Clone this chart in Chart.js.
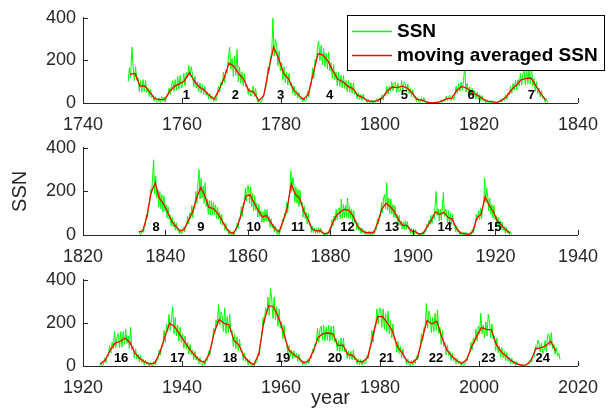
<!DOCTYPE html>
<html><head><meta charset="utf-8">
<script src="https://cdn.jsdelivr.net/npm/chart.js@4.4.1/dist/chart.umd.min.js"></script>
<style>
html,body{margin:0;padding:0;background:#fff;width:609px;height:412px;overflow:hidden;position:relative}
canvas{position:absolute;left:0}
</style></head><body>
<canvas id="c0" width="609" height="137" style="top:0px"></canvas>
<canvas id="c1" width="609" height="137" style="top:130px"></canvas>
<canvas id="c2" width="609" height="150" style="top:262px"></canvas>
<script>
// ---- DATA ----
// SSN sampled 4 times per year, starting 1749
const ssnStartYear = 1749;
const ssnPerYear = 4;
const ssnValues = [
100,165,120,262, 175,105,170,110, 120,55,105,50, 110,55,105,50, 72,30,65,25,
35,10,30,6, 4,25,3,30, 8,28,5,32, 30,70,40,85, 105,55,110,60,
125,65,130,70, 85,140,80,145, 120,178,125,170, 135,75,125,70, 100,52,95,48,
85,40,78,36, 52,20,45,18, 30,6,28,10, 35,78,50,100, 85,145,95,155,
140,215,262,160, 210,125,220,130, 252,100,170,95, 145,80,140,75, 85,40,70,32,
38,80,30,68, 22,2,18,0, 8,35,45,68, 90,170,150,215, 230,400,220,300,
270,175,245,150, 190,110,170,95, 145,85,140,80, 95,45,80,35, 58,22,50,18,
28,5,25,8, 15,55,28,75, 85,165,115,205, 190,260,290,200, 270,180,255,170,
235,160,240,150, 190,115,180,110, 145,80,145,78, 130,70,130,68, 105,52,105,50,
95,45,95,40, 55,20,48,16, 40,12,42,14, 20,2,18,3, 2,14,0,12,
3,20,5,24, 10,38,15,45, 35,80,40,78, 55,100,58,95, 95,50,92,52,
60,105,58,100, 92,50,90,45, 68,30,62,25, 28,6,25,4, 3,24,5,26,
9,0,8,0, 0,1,0,2, 0,6,0,8, 2,16,3,18, 8,32,12,30,
36,12,35,14, 35,78,45,92, 55,98,60,105, 170,50,92,45, 75,35,68,30,
58,20,52,18, 40,10,35,8, 18,1,16,0, 0,12,1,11, 0,5,0,6,
2,18,4,24, 12,40,16,48, 38,78,45,92, 60,108,62,110, 80,140,85,140,
150,85,165,90, 165,90,175,80, 115,55,100,45, 70,28,58,20, 28,4,20,2,
5,25,12,35, 45,95,80,140, 140,210,190,265, 345,190,270,170, 210,130,200,120,
185,105,180,110, 140,78,130,72, 92,42,82,38, 62,22,56,20, 32,5,28,6,
10,36,14,42, 40,85,50,100, 75,135,80,130, 120,200,145,240, 300,165,260,170,
225,145,240,130, 165,95,158,92, 155,92,150,95, 138,75,128,72, 105,50,95,45,
60,22,52,18, 25,2,22,1, 1,16,0,22, 18,55,30,75, 70,130,85,150,
145,215,155,225, 225,145,220,130, 190,110,180,115, 145,82,140,85, 112,60,108,58,
118,65,115,62, 85,36,75,32, 50,14,42,12, 2,24,1,28, 30,72,60,100,
85,150,100,175, 190,295,200,265, 235,150,220,145, 210,130,205,140, 150,82,135,75,
105,50,98,45, 48,12,40,10, 32,6,30,8, 34,8,32,8, 12,0,10,0,
0,12,5,24, 25,72,40,88, 65,118,70,115, 125,75,165,78, 140,80,135,82,
170,78,130,75, 118,62,112,55, 70,25,58,20, 36,8,32,10, 20,2,18,3,
2,18,1,16, 0,20,4,26, 25,72,50,95, 85,150,100,170, 185,120,240,115,
170,100,165,95, 140,80,135,78, 95,48,90,45, 65,28,60,26, 66,25,62,28,
35,6,30,8, 28,3,25,4, 10,0,9,0, 0,15,2,18, 15,48,35,68,
48,90,52,95, 75,140,200,90, 120,65,118,68, 130,195,85,120, 110,55,112,52,
100,48,95,45, 52,15,42,12, 20,1,16,2, 0,13,0,12, 5,0,7,0,
2,25,8,32, 45,95,70,112, 70,125,75,125, 135,260,150,215, 175,110,170,95,
140,78,135,70, 90,42,82,38, 66,24,60,22, 40,8,36,10, 20,1,16,2,
5,38,15,50, 45,95,60,110, 80,160,85,135, 150,85,160,88, 160,100,170,105,
140,80,180,75, 90,38,80,32, 55,18,50,16, 32,5,28,8, 18,0,17,2,
2,22,5,28, 28,75,50,95, 90,165,110,195, 160,240,165,220, 275,150,225,140,
190,115,180,110, 150,82,140,78, 110,55,100,52, 75,30,68,28, 45,10,40,10,
2,25,5,30, 25,68,50,88, 105,175,150,215, 185,285,190,250, 235,160,270,150,
230,155,240,160, 165,90,150,80, 135,70,125,68, 72,25,60,22, 35,5,30,6,
0,12,0,16, 15,60,50,105, 135,225,195,270, 240,320,235,360, 310,220,320,215,
275,185,265,175, 205,125,190,115, 110,55,95,45, 75,35,70,38, 60,22,55,20,
28,4,24,6, 8,30,12,38, 35,78,62,105, 100,175,110,170, 185,120,190,115,
180,120,190,115, 185,120,185,110, 128,70,118,68, 130,70,130,65, 80,35,70,32,
68,30,72,28, 38,8,34,6, 30,4,28,8, 15,48,35,70, 90,165,110,185,
185,265,195,270, 265,180,265,170, 245,160,255,150, 210,130,195,120, 130,65,115,58,
90,38,80,35, 38,6,34,5, 2,26,4,30, 12,45,30,60, 80,150,115,180,
180,290,175,255, 235,155,225,160, 245,165,260,150, 180,100,165,90, 108,52,98,48,
68,25,60,24, 40,10,36,10, 22,2,20,4, 5,35,25,58, 55,110,75,130,
105,170,115,185, 150,245,150,190, 130,205,140,240, 205,130,195,125, 140,70,130,62,
92,42,85,38, 70,25,62,22, 42,10,38,10, 24,3,20,4, 10,0,8,0,
0,6,3,14, 8,30,18,42, 40,90,75,120, 110,65,105,58, 70,118,65,145,
150,95,155,80, 100,55,85,45, 60,30
];
// Moving averaged SSN, one value per year (centred mid-year), starting 1749
const avgStartYear = 1749;
const avgValues = [
134.7,139.0,79.5,79.7,51.2,20.3,16.0,17.0,54.0,79.3,
90.0,104.8,143.2,102.0,75.2,60.7,34.8,19.0,63.0,116.3,
188.0,172.0,136.0,110.8,58.0,51.0,11.7,33.0,154.2,262.0,
209.8,141.3,113.5,64.2,38.0,17.0,40.2,138.2,232.0,225.0,
196.8,149.8,111.0,100.0,78.2,68.3,35.5,26.7,10.7,6.8,
11.3,24.2,56.7,75.0,71.8,79.2,70.3,46.8,16.8,13.5,
4.2,0.0,2.3,8.3,20.3,23.2,59.0,78.0,70.0,52.9,
38.5,24.2,9.2,6.3,2.2,11.4,28.2,59.9,83.0,108.5,
115.2,117.4,80.8,44.3,13.4,19.5,85.8,192.7,240.0,168.7,
143.0,105.5,63.3,40.3,18.1,25.1,65.8,102.7,166.3,218.0,
182.5,126.3,122.0,102.7,74.1,39.0,12.7,8.2,43.4,104.4,
178.3,184.0,146.6,112.1,83.5,89.2,57.8,30.7,13.9,62.8,
123.6,234.0,185.3,169.2,110.1,74.5,28.3,18.9,20.7,5.7,
10.0,53.7,90.5,108.0,118.0,112.0,86.3,42.4,21.8,11.2,
10.4,11.8,59.5,121.7,145.0,130.0,106.6,69.4,43.8,44.4,
20.2,15.7,4.6,8.5,40.8,70.1,105.5,95.0,104.0,80.9,
73.2,30.9,9.5,6.0,2.4,16.1,79.0,95.0,176.0,134.6,
105.7,62.7,43.5,23.7,9.7,27.9,74.0,106.5,114.7,129.7,
108.2,59.4,35.1,18.6,9.2,14.6,60.2,132.8,198.0,182.6,
148.0,113.0,79.2,50.8,27.1,16.1,55.3,154.3,216.0,198.0,
190.7,118.9,98.3,45.0,20.1,6.6,54.2,200.7,280.0,275.0,
225.1,159.0,76.4,53.4,39.9,15.0,22.0,66.8,132.9,150.0,
153.0,148.0,94.4,97.6,54.1,49.2,22.5,18.4,39.3,131.0,
228.0,230.0,198.9,162.4,91.0,60.5,20.6,14.8,33.9,123.0,
211.1,195.0,208.0,133.0,76.1,44.9,25.1,11.6,28.9,88.3,
136.3,178.0,170.4,168.0,99.3,65.3,45.8,24.7,12.6,4.2,
4.8,24.9,80.8,84.5,94.0,115.0,69.8
];
// Solar cycle numbers and the year where each label sits
const cycleNumbers = ['1','2','3','4','5','6','7','8','9','10','11','12','13','14','15','16','17','18','19','20','21','22','23','24'];
const cycleYears = [1760.9,1770.8,1779.9,1789.8,1804.9,1818.4,1830.6,1837.7,1848.6,1861.4,1872.1,1884.1,1894.9,1907.7,1919.7,1927.7,1939.1,1949.7,1960.4,1970.9,1981.3,1991.3,2001.9,2012.9];
// Panels: axis range and data span
const panelXMin = [1740, 1820, 1920];
const panelXMax = [1840, 1940, 2020];
const panelFrom = [1749, 1833.4, 1923.3];
const panelTo   = [1834, 1923.9, 2017];
const yTicksMax = 400;
const legendLabels = ['SSN', 'moving averaged SSN'];

// ---- STYLE / LAYOUT ----
const FONT = "'Liberation Sans', Arial, Helvetica, sans-serif";
const AXC = '#262626';
const GREEN = '#00ff00', RED = '#ff0000';
const canvasH = [137, 137, 150];
const areaBottom = [103, 105, 104];
const LABEL_LEVEL = 35;

Chart.defaults.font.family = FONT;
Chart.defaults.color = AXC;

const ssnPoints = ssnValues.map((v, i) => ({x: ssnStartYear + (i + 0.5) / ssnPerYear, y: v}));
const avgPoints = avgValues.map((v, i) => ({x: avgStartYear + i + 0.5, y: v}));

const axisTicks = {
  id: 'axisTicks',
  afterDraw(chart) {
    const {ctx, chartArea: a, scales: {x, y}} = chart;
    ctx.save();
    ctx.strokeStyle = AXC; ctx.lineWidth = 1;
    ctx.beginPath();
    x.ticks.forEach(t => { const px = Math.round(x.getPixelForValue(t.value)) + 0.5; ctx.moveTo(px, a.bottom); ctx.lineTo(px, a.bottom - 5); });
    y.ticks.forEach(t => { const py = Math.round(y.getPixelForValue(t.value)) + 0.5; ctx.moveTo(a.left, py); ctx.lineTo(a.left + 5, py); });
    ctx.stroke();
    ctx.restore();
  }
};

function makeCyclePlugin(p) {
  return {
    id: 'cycles' + p,
    afterDatasetsDraw(chart) {
      const {ctx, scales: {x, y}} = chart;
      ctx.save();
      ctx.fillStyle = '#000';
      ctx.font = 'bold 13px ' + FONT;
      ctx.textAlign = 'center';
      ctx.textBaseline = 'middle';
      cycleNumbers.forEach((n, i) => {
        const yr = cycleYears[i];
        if (yr >= panelFrom[p] && yr <= panelTo[p]) {
          ctx.fillText(n, x.getPixelForValue(yr), y.getPixelForValue(LABEL_LEVEL));
        }
      });
      ctx.restore();
    }
  };
}

const legendPlugin = {
  id: 'boxLegend',
  afterDraw(chart) {
    const ctx = chart.ctx;
    ctx.save();
    ctx.fillStyle = '#fff';
    ctx.fillRect(347, 15, 258, 55);
    ctx.strokeStyle = '#000'; ctx.lineWidth = 1;
    ctx.strokeRect(347.5, 15.5, 257, 55);
    const rows = [[GREEN, 31.5], [RED, 55.5]];
    rows.forEach(([c, yy], i) => {
      ctx.strokeStyle = c; ctx.lineWidth = 1.5;
      ctx.beginPath(); ctx.moveTo(352, yy); ctx.lineTo(392, yy); ctx.stroke();
      ctx.fillStyle = '#000';
      ctx.font = 'bold 19px ' + FONT;
      ctx.textAlign = 'left'; ctx.textBaseline = 'middle';
      ctx.fillText(legendLabels[i], 397, yy);
    });
    ctx.restore();
  }
};

for (let p = 0; p < 3; p++) {
  const inPanel = pt => pt.x >= panelFrom[p] && pt.x <= panelTo[p];
  const plugins = [axisTicks, makeCyclePlugin(p)];
  if (p === 0) plugins.push(legendPlugin);
  new Chart(document.getElementById('c' + p), {
    type: 'line',
    data: {
      datasets: [
        {label: legendLabels[1], data: avgPoints.filter(inPanel), borderColor: RED, borderWidth: 1.3, pointRadius: 0, tension: 0, order: 0},
        {label: legendLabels[0], data: ssnPoints.filter(inPanel), borderColor: GREEN, borderWidth: 1, pointRadius: 0, tension: 0, order: 1}
      ]
    },
    options: {
      responsive: false,
      animation: false,
      devicePixelRatio: 1,
      layout: {padding: {top: 14, left: 0, right: 26, bottom: 0}},
      plugins: {legend: {display: false}, tooltip: {enabled: false}},
      scales: {
        x: {
          type: 'linear', min: panelXMin[p], max: panelXMax[p],
          grid: {display: false, drawTicks: false},
          border: {display: true, color: AXC, width: 1},
          ticks: {stepSize: 20, padding: 11, color: AXC, font: {size: 18, family: FONT}, callback: v => String(v), maxRotation: 0, autoSkip: false},
          title: {display: p === 2, text: 'year', color: AXC, font: {size: 20, family: FONT}, padding: {top: 0, bottom: 2}},
          afterFit: s => { s.height = canvasH[p] - areaBottom[p]; }
        },
        y: {
          min: 0, max: yTicksMax,
          grid: {display: false, drawTicks: false},
          border: {display: true, color: AXC, width: 1},
          ticks: {stepSize: 200, padding: 7, color: AXC, font: {size: 18, family: FONT}, callback: v => String(v)},
          title: {display: p === 1, text: 'SSN', color: AXC, font: {size: 20, family: FONT}, padding: {top: 8, bottom: 0}},
          afterFit: s => { s.width = 83; }
        }
      }
    },
    plugins: plugins
  });
}
</script>
</body></html>
